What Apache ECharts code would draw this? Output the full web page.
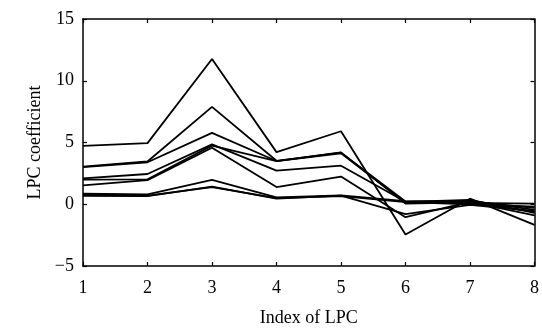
<!DOCTYPE html>
<html><head><meta charset="utf-8">
<script src="https://cdn.jsdelivr.net/npm/echarts@6/dist/echarts.min.js"></script>
<style>html,body{margin:0;padding:0;background:#fff}#c{width:542px;height:332px}</style>
</head><body><div id="c"></div>
<script>
var indices = [1, 2, 3, 4, 5, 6, 7, 8];
var line1 = [4.72, 4.95, 11.76, 4.22, 5.91, -2.45, 0.45, -1.67];
var line2 = [3.04, 3.46, 7.88, 3.52, 4.18, 0.22, 0.30, -0.45];
var line3 = [3.00, 3.40, 5.78, 3.50, 4.12, 0.12, 0.22, -0.30];
var line4 = [2.10, 2.45, 4.85, 2.72, 3.12, 0.20, 0.35, -0.70];
var line5 = [2.00, 2.02, 4.75, 3.50, 4.20, 0.05, 0.15, -0.60];
var line6 = [1.52, 1.95, 4.58, 1.39, 2.24, -1.05, 0.20, -0.90];
var line7 = [0.85, 0.80, 1.97, 0.55, 0.72, 0.25, 0.10, 0.05];
var line8 = [0.75, 0.70, 1.39, 0.50, 0.65, 0.18, 0.00, -0.20];
var line9 = [0.68, 0.65, 1.42, 0.45, 0.70, -0.80, -0.05, -0.55];
var allLines = [line1, line2, line3, line4, line5, line6, line7, line8, line9];
var yTicks = [-5, 0, 5, 10, 15];

var font = 'Liberation Serif';
var chart = echarts.init(document.getElementById('c'), null, {renderer: 'canvas'});
var axisCommon = {
  axisLine: {show: true, onZero: false, lineStyle: {color: '#000', width: 1.5}},
  axisTick: {show: true, inside: true, length: 4, lineStyle: {color: '#000', width: 1.2}},
  splitLine: {show: false}
};
chart.setOption({
  animation: false,
  backgroundColor: '#fff',
  grid: {left: 83, right: 7, top: 19, bottom: 62, containLabel: false},
  xAxis: [
    Object.assign({type: 'value', min: indices[0], max: indices[indices.length - 1], interval: 1, position: 'bottom',
      name: 'Index of LPC', nameLocation: 'middle', nameGap: 43,
      nameTextStyle: {fontFamily: font, fontSize: 18, color: '#000'},
      axisLabel: {fontFamily: font, fontSize: 18, color: '#000', margin: 13}}, axisCommon),
    Object.assign({type: 'value', min: indices[0], max: indices[indices.length - 1], interval: 1, position: 'top',
      axisLabel: {show: false}}, axisCommon)
  ],
  yAxis: [
    Object.assign({type: 'value', min: yTicks[0], max: yTicks[yTicks.length - 1], interval: 5, position: 'left',
      name: 'LPC coefficient', nameLocation: 'middle', nameGap: 38, nameRotate: 90,
      nameTextStyle: {fontFamily: font, fontSize: 18, color: '#000'},
      axisLabel: {fontFamily: font, fontSize: 18, color: '#000', margin: 9,
        formatter: function (v) { return v < 0 ? '\u2212' + Math.abs(v) : String(v); }}}, axisCommon),
    Object.assign({type: 'value', min: yTicks[0], max: yTicks[yTicks.length - 1], interval: 5, position: 'right',
      axisLabel: {show: false}}, axisCommon)
  ],
  series: allLines.map(function (vals) {
    return {
      type: 'line', xAxisIndex: 0, yAxisIndex: 0,
      data: vals.map(function (v, i) { return [indices[i], v]; }),
      symbol: 'none', lineStyle: {color: '#000', width: 1.8}, silent: true
    };
  })
});
</script></body></html>
